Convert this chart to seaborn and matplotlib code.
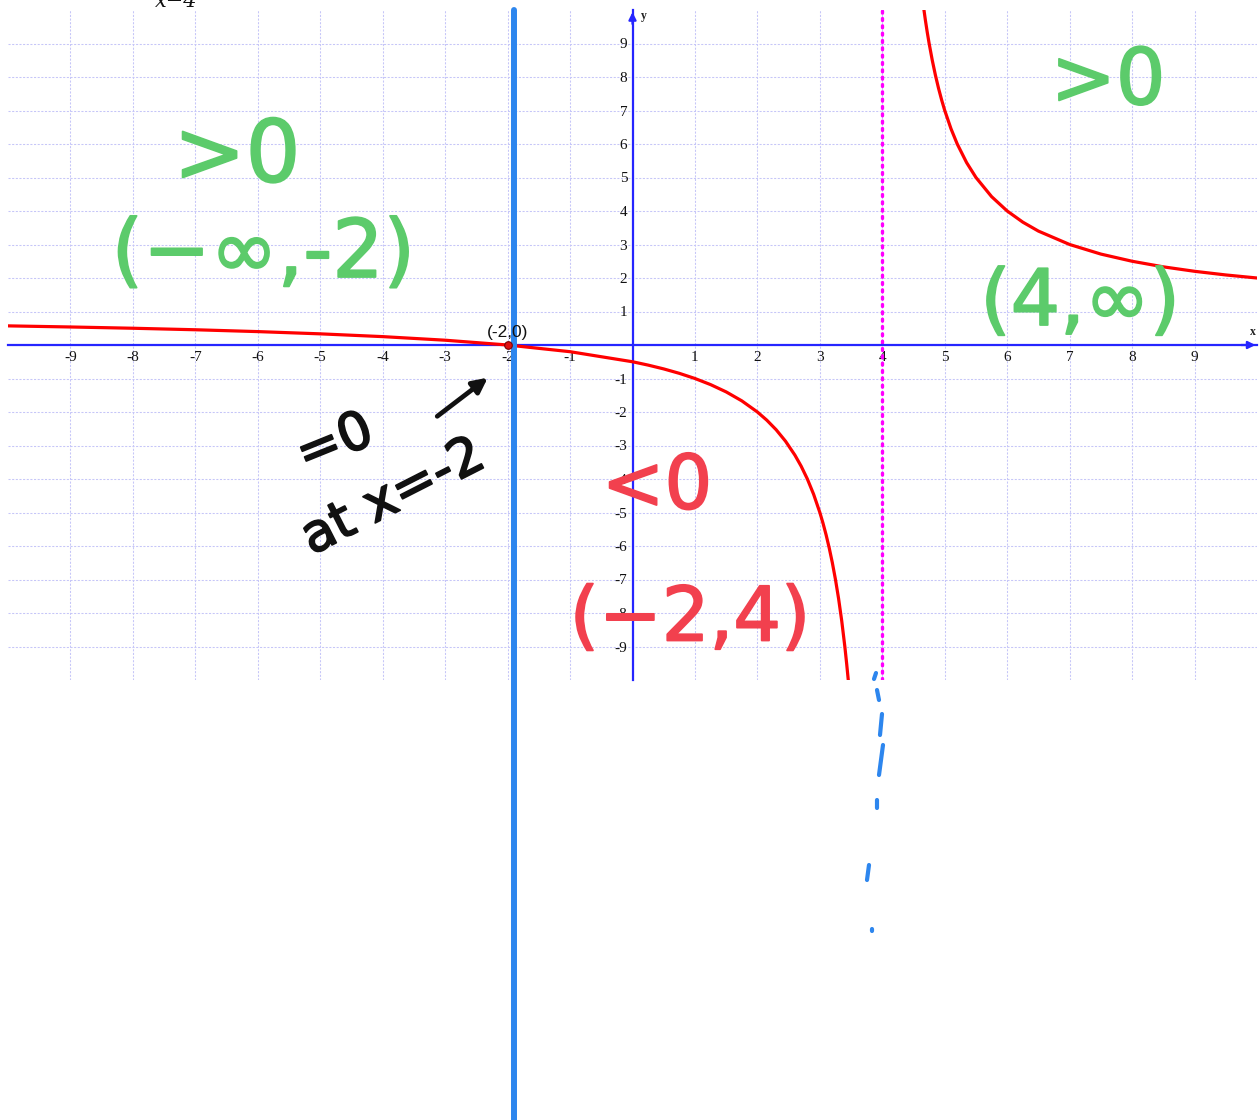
import matplotlib
matplotlib.use("Agg")
import matplotlib.pyplot as plt
import matplotlib.patheffects as pe
import seaborn as sns
import pandas as pd
from matplotlib.lines import Line2D

# ---- data ----
left_x = [-10, -9, -8, -7, -6, -5, -4, -3, -2, -1, 0, 0.25, 0.5, 0.75, 1, 1.25, 1.5, 1.75,
          2, 2.15, 2.3, 2.45, 2.6, 2.7, 2.8, 2.9, 3.0, 3.05, 3.1, 3.15, 3.2, 3.25, 3.3,
          3.35, 3.4, 3.43, 3.455]
left_y = [0.571, 0.538, 0.5, 0.455, 0.4, 0.333, 0.25, 0.143, 0, -0.2, -0.5, -0.6, -0.714, -0.846,
          -1, -1.182, -1.4, -1.667, -2, -2.243, -2.529, -2.871, -3.286, -3.615, -4.0, -4.455,
          -5.0, -5.316, -5.667, -6.059, -6.5, -7.0, -7.571, -8.231, -9.0, -9.526, -10.0]
right_x = [4.667, 4.69, 4.72, 4.75, 4.8, 4.85, 4.9, 4.95, 5, 5.1, 5.2, 5.35, 5.5, 5.75, 6,
           6.25, 6.5, 7, 7.5, 8, 8.5, 9, 9.5, 10]
right_y = [10.0, 9.696, 9.333, 9.0, 8.5, 8.059, 7.667, 7.316, 7.0, 6.455, 6.0, 5.444, 5.0,
           4.429, 4.0, 3.667, 3.4, 3.0, 2.714, 2.5, 2.333, 2.2, 2.091, 2.0]
x_ticks = [-9, -8, -7, -6, -5, -4, -3, -2, -1, 1, 2, 3, 4, 5, 6, 7, 8, 9]
y_ticks = [-9, -8, -7, -6, -5, -4, -3, -2, -1, 1, 2, 3, 4, 5, 6, 7, 8, 9]
zero_point = (-2, 0)
zero_label = "(-2,0)"
asymptote_x = 4
sign_line_x = -1.89

W, H = 1260, 1120
sns.set_theme(style="white")
plt.rcParams['font.family'] = ['DejaVu Sans']

fig = plt.figure(figsize=(W / 100, H / 100), dpi=100)
ax = fig.add_axes([8 / W, 1 - 680 / H, 1249 / W, 670 / H])
ax.set_xlim(-10, 10)
ax.set_ylim(-10, 10)

def F(px, py):
    return (px / W, 1 - py / H)

AXBLUE = '#2525ff'

# grid
ax.set_xticks(list(range(-9, 10)))
ax.set_yticks(list(range(-9, 10)))
ax.grid(True, color='#c6c6f8', linestyle=(0, (2, 1.5)), linewidth=0.75, zorder=0)

for s in ['top', 'right']:
    ax.spines[s].set_visible(False)
for s in ['bottom', 'left']:
    ax.spines[s].set_position('zero')
    ax.spines[s].set_color(AXBLUE)
    ax.spines[s].set_linewidth(1.6)
    ax.spines[s].set_zorder(3)

ax.set_xticklabels(['' if t == 0 else str(t) for t in range(-9, 10)])
ax.set_yticklabels(['' if t == 0 else str(t) for t in range(-9, 10)])
ax.tick_params(axis='both', direction='inout', length=7, width=1.1, color=AXBLUE,
               labelsize=11, labelcolor='#111111')
ax.tick_params(axis='x', pad=1.0)
ax.tick_params(axis='y', pad=0.3)
for lab in ax.get_xticklabels() + ax.get_yticklabels():
    lab.set_family('Liberation Serif')

# axis arrows
ax.annotate('', xy=(10.02, 0), xytext=(9.7, 0), annotation_clip=False,
            arrowprops=dict(arrowstyle='-|>', color=AXBLUE, lw=1.6, mutation_scale=11))
ax.annotate('', xy=(0, 10.02), xytext=(0, 9.5), annotation_clip=False,
            arrowprops=dict(arrowstyle='-|>', color=AXBLUE, lw=1.6, mutation_scale=11))
ax.text(9.93, 0.2, 'x', family='Liberation Serif', fontsize=8.5, fontweight='bold',
        ha='center', va='bottom', color='#222222')
ax.text(0.13, 9.83, 'y', family='Liberation Serif', fontsize=8.5, fontweight='bold',
        ha='left', va='center', color='#222222')

# vertical asymptote (magenta dotted)
ax.plot([asymptote_x, asymptote_x], [-10, 10], color='#ff00ff', lw=2.4,
        linestyle=(0, (0.6, 1.6)), dash_capstyle='round', zorder=2)

# curve
dl = pd.DataFrame({'x': left_x, 'y': left_y})
dr = pd.DataFrame({'x': right_x, 'y': right_y})
sns.lineplot(data=dl, x='x', y='y', ax=ax, color='#ff0000', lw=2.3, sort=False,
             estimator=None, zorder=4)
sns.lineplot(data=dr, x='x', y='y', ax=ax, color='#ff0000', lw=2.3, sort=False,
             estimator=None, zorder=4)
ax.set_xlabel('')
ax.set_ylabel('')

# zero point
ax.scatter([zero_point[0]], [zero_point[1]], s=30, color='#e01010', edgecolor='#7a0000',
           linewidth=0.8, zorder=6)
ax.text(zero_point[0], 0.15, zero_label, family='Liberation Sans', fontsize=12.5,
        ha='center', va='bottom', color='#111111', zorder=6)

# thick blue sign line near x = -2 (extends below the graph)
ax.plot([sign_line_x, sign_line_x], [10, -23.2], color='#2d86ee', lw=4.3,
        solid_capstyle='round', clip_on=False, zorder=5)

# handwritten dashed blue line below the asymptote
segs = [[(876, 673), (874, 679)], [(877, 690), (879, 700)], [(882, 714), (880, 735)],
        [(883, 745), (879, 775)], [(877, 800), (877, 808)], [(869, 865), (867, 880)],
        [(872, 929), (872, 931)]]
for s in segs:
    (a, b), (c, d) = F(*s[0]), F(*s[1])
    fig.add_artist(Line2D([a, c], [b, d], transform=fig.transFigure, color='#2d86ee',
                          lw=3.0, solid_capstyle='round'))

# handwritten annotations
GREEN = '#5ccb6b'
RED = '#f2404e'
def hand(txt, px, py, size, color, rot=0):
    t = fig.text(*F(px, py), txt, fontsize=size, color=color, rotation=rot,
                 family='DejaVu Sans', ha='center', va='center')
    t.set_path_effects([pe.withStroke(linewidth=1.3, foreground=color)])

hand('>0', 237, 158, 62, GREEN)
hand('(−∞,-2)', 263, 255, 58, GREEN)
hand('>0', 1108, 82, 56, GREEN)
hand('(4,∞)', 1080, 303, 56, GREEN)
hand('<0', 657, 488, 54, RED)
hand('(−2,4)', 690, 620, 54, RED)
hand('=0', 335, 443, 38, '#111111', 22)
hand('at x=-2', 393, 497, 38, '#111111', 27)
a0, a1 = F(435, 418), F(490, 376)
fig.add_artist(matplotlib.patches.FancyArrowPatch(a0, a1, transform=fig.transFigure,
               arrowstyle='-|>', mutation_scale=22, color='#111111', lw=3.4))

# clipped title fragment at top
fig.text(*F(176, 7), 'x−4', family='DejaVu Serif', style='italic', fontsize=15,
         ha='center', va='baseline', color='#111111')

fig.savefig('out.png', dpi=100)
